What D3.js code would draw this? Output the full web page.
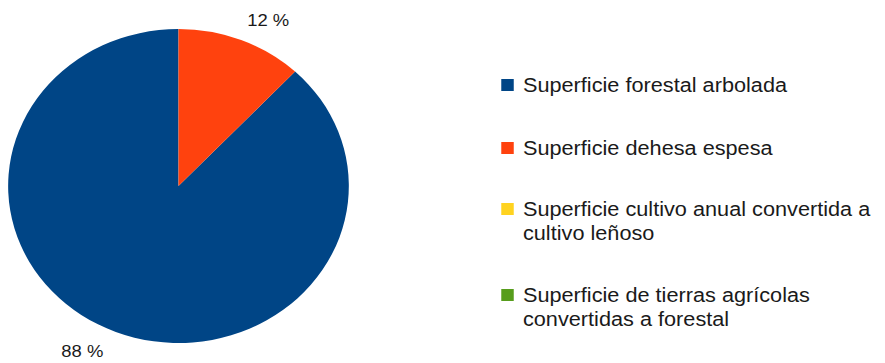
<!DOCTYPE html>
<html>
<head>
<meta charset="utf-8">
<script src="https://cdn.jsdelivr.net/npm/d3@7.9.0/dist/d3.min.js"></script>
<style>
  body { margin: 0; background: #fff; }
  text { font-family: "Liberation Sans", Arial, sans-serif; fill: #1a1a1a; }
</style>
</head>
<body>
<svg id="chart"></svg>
<script>
const categories = [
  "Superficie forestal arbolada",
  "Superficie dehesa espesa",
  "Superficie cultivo anual convertida a cultivo leñoso",
  "Superficie de tierras agrícolas convertidas a forestal"
];
const legendLines = [
  ["Superficie forestal arbolada"],
  ["Superficie dehesa espesa"],
  ["Superficie cultivo anual convertida a", "cultivo leñoso"],
  ["Superficie de tierras agrícolas", "convertidas a forestal"]
];
const values = [88, 12, 0, 0];
const colors = ["#004586", "#ff420e", "#ffd320", "#579d1c"];

const width = 885;
const height = 363;
// the reference is stretched a little horizontally
const stretch = 1.085;

const svg = d3.select("#chart")
  .attr("width", width)
  .attr("height", height);

const g = svg.append("g")
  .attr("transform", `scale(${stretch},1)`);

const cx = 164.5;
const cy = 186;
const radius = 157;

const data = categories.map((c, i) => ({ name: c, value: values[i], color: colors[i] }));

// slices run counterclockwise from 12 o'clock
const pie = d3.pie()
  .sort(null)
  .value((d) => d.value)
  .startAngle(0)
  .endAngle(-2 * Math.PI);

const arcs = pie(data);
const arc = d3.arc().innerRadius(0).outerRadius(radius);

const pieG = g.append("g")
  .attr("transform", `translate(${cx},${cy})`);

pieG.selectAll(".slice")
  .data(arcs.filter((d) => d.data.value > 0))
  .enter()
  .append("path")
  .attr("class", "slice")
  .attr("d", arc)
  .attr("fill", (d) => d.data.color);

const total = d3.sum(values);
const labelR = 172;

pieG.selectAll(".pct")
  .data(arcs.filter((d) => d.data.value > 0))
  .enter()
  .append("text")
  .attr("class", "pct")
  .each(function (d) {
    const a = (d.startAngle + d.endAngle) / 2;
    const x = Math.sin(a) * labelR;
    const y = -Math.cos(a) * labelR;
    const right = x >= 0;
    d3.select(this)
      .attr("x", right ? x : x - 6)
      .attr("y", y < 0 ? y : y + 11)
      .attr("text-anchor", right ? "start" : "end");
  })
  .style("font-size", "17px")
  .text((d) => Math.round((d.data.value / total) * 100) + " %");

// legend
const legendX = 462;
const textX = 482;
const baselines = [92, 155, 216, 302];
const lineH = 24.5;

const legend = g.append("g").attr("class", "legend");

const items = legend.selectAll(".item")
  .data(data)
  .enter()
  .append("g")
  .attr("class", "item");

items.append("rect")
  .attr("x", legendX)
  .attr("y", (d, i) => baselines[i] - 13)
  .attr("width", 11.5)
  .attr("height", 12)
  .attr("fill", (d) => d.color);

items.append("text")
  .attr("x", textX)
  .attr("y", (d, i) => baselines[i])
  .style("font-size", "20px")
  .each(function (d, i) {
    d3.select(this)
      .selectAll("tspan")
      .data(legendLines[i])
      .enter()
      .append("tspan")
      .attr("x", textX)
      .attr("dy", (t, j) => (j === 0 ? 0 : lineH))
      .text((t) => t);
  });
</script>
</body>
</html>
